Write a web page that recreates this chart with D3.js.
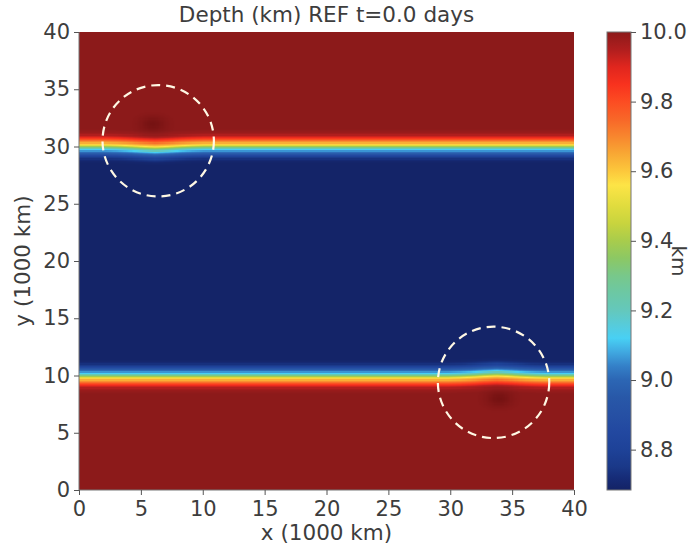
<!DOCTYPE html>
<html>
<head>
<meta charset="utf-8">
<script src="https://cdn.jsdelivr.net/npm/d3@7"></script>
<style>
  body { margin: 0; background: #fff; }
  svg text { font-family: "DejaVu Sans", sans-serif; fill: #3d3d3d; }
  .tick text { font-size: 21px; }
  .tick line { stroke: #555; }
</style>
</head>
<body>
<div id="chart"></div>
<script>
// depth profile across a front: signed distance (1000 km, + toward deep side) -> depth (km)
var profileDist = [-1.6, -1.2, -1.0, -0.8, -0.6, -0.4, -0.25, -0.1, 0, 0.1, 0.22, 0.35, 0.5, 0.65, 0.83, 1.0, 1.2, 1.6];
var profileDepth = [8.685, 8.70, 8.74, 8.82, 8.94, 9.03, 9.12, 9.26, 9.34, 9.44, 9.57, 9.64, 9.71, 9.79, 9.87, 9.94, 9.98, 10.0];

// fronts: resting position and local shift near each eddy
var frontY = [30, 10];
var frontSide = [1, -1];            // deep side above (1) or below (-1)
var eddyX = [6.2, 33.8];
var shiftOffset = [-4, -3, -2, -1, 0, 1, 2, 3, 4];
var shiftTop = [0, -0.03, -0.08, -0.15, -0.2, -0.15, -0.08, -0.03, 0];
var shiftBottom = [0, 0.03, 0.08, 0.15, 0.2, 0.15, 0.08, 0.03, 0];

// dark spots (slightly deeper than 10 km)
var spotX = [6.0, 34.0];
var spotY = [32.0, 8.0];
var spotRadius = [0, 0.4, 0.8, 1.2, 1.6];
var spotExtra = [0.05, 0.04, 0.02, 0.007, 0];

// dashed circles
var circleX = [6.4, 33.5];
var circleY = [30.5, 9.4];
var circleR = 4.5;

var xTicks = [0, 5, 10, 15, 20, 25, 30, 35, 40];
var yTicks = [0, 5, 10, 15, 20, 25, 30, 35, 40];
var cbTicks = [8.8, 9.0, 9.2, 9.4, 9.6, 9.8, 10.0];
var cbRange = [8.684, 10.0];

var cmapValues = [8.69, 8.72, 8.75, 8.8, 8.85, 8.9, 8.95, 9.0, 9.04, 9.08, 9.12, 9.15, 9.2, 9.25, 9.3, 9.35, 9.4, 9.45, 9.5, 9.56, 9.6, 9.65, 9.7, 9.75, 9.8, 9.85, 9.9, 9.95, 10.0, 10.06];
var cmapColors = ["#142468", "#162c78", "#1a3888", "#1e4298", "#2248a0", "#2650a4", "#2858a8", "#2c66b4", "#3480c8", "#40a8e0",
                  "#48d0f4", "#54cce0", "#64c8bc", "#6cc8a4", "#78c88a", "#8cc864", "#a8cc4c", "#c8d43e", "#e0dc3e", "#fde446",
                  "#fcc83c", "#f8a834", "#f8862e", "#f86628", "#fc4c22", "#f8321e", "#e0261e", "#b01e1e", "#8c1a1a", "#701010"];

var W = 692, H = 546;
var plot = {left: 79, right: 574, top: 32, bottom: 490};

var x = d3.scaleLinear().domain([0, 40]).range([plot.left, plot.right]);
var y = d3.scaleLinear().domain([0, 40]).range([plot.bottom, plot.top]);
var color = d3.scaleLinear().domain(cmapValues).range(cmapColors).clamp(true);

var profile = d3.scaleLinear().domain(profileDist).range(profileDepth).clamp(true);
var shiftT = d3.scaleLinear().domain(shiftOffset).range(shiftTop).clamp(true);
var shiftB = d3.scaleLinear().domain(shiftOffset).range(shiftBottom).clamp(true);
var spot = d3.scaleLinear().domain(spotRadius).range(spotExtra).clamp(true);

function depth(px, py) {
    var c1 = frontY[0] + shiftT(px - eddyX[0]);
    var c2 = frontY[1] + shiftB(px - eddyX[1]);
    var d = Math.max((py - c1) * frontSide[0], (py - c2) * frontSide[1]);
    var h = profile(d);
    for (var i = 0; i < spotX.length; i++) {
        var r = Math.sqrt(Math.pow((px - spotX[i]) / 1.2, 2) + Math.pow((py - spotY[i]) / 0.8, 2));
        h += spot(r);
    }
    return h;
}

// paint the field cell by cell onto a canvas, then embed it
var step = 0.1;
var pw = plot.right - plot.left, ph = plot.bottom - plot.top;
var canvas = document.createElement("canvas");
canvas.width = pw; canvas.height = ph;
var ctx = canvas.getContext("2d");
d3.range(0, 40, step).forEach(function(cx) {
    d3.range(0, 40, step).forEach(function(cy) {
        ctx.fillStyle = color(depth(cx + step / 2, cy + step / 2));
        var x0 = x(cx) - plot.left, x1 = x(cx + step) - plot.left;
        var y0 = y(cy + step) - plot.top, y1 = y(cy) - plot.top;
        ctx.fillRect(Math.floor(x0), Math.floor(y0), Math.ceil(x1) - Math.floor(x0), Math.ceil(y1) - Math.floor(y0));
    });
});

var svg = d3.select("#chart").append("svg")
    .attr("width", W)
    .attr("height", H);

svg.append("image")
    .attr("x", plot.left)
    .attr("y", plot.top)
    .attr("width", pw)
    .attr("height", ph)
    .attr("preserveAspectRatio", "none")
    .attr("href", canvas.toDataURL());

// dashed circles
svg.selectAll(".eddy")
    .data(circleX)
    .enter()
    .append("circle")
    .attr("class", "eddy")
    .attr("cx", d => x(d))
    .attr("cy", (d, i) => y(circleY[i]))
    .attr("r", x(circleR) - x(0))
    .style("fill", "none")
    .style("stroke", "#fff8e4")
    .style("stroke-width", 2.2)
    .style("stroke-dasharray", "9,6");

// left and bottom spines
svg.append("path")
    .attr("d", "M" + plot.left + "," + plot.top + "V" + plot.bottom + "H" + plot.right)
    .style("fill", "none").style("stroke", "#777").style("stroke-width", 1);

function clean(g) {
    g.select(".domain").remove();
    g.attr("font-family", null).attr("font-size", null);
}

svg.append("g")
    .attr("transform", "translate(0," + plot.bottom + ")")
    .call(d3.axisBottom(x).tickValues(xTicks).tickSize(5).tickPadding(6).tickFormat(d3.format("d")))
    .call(clean);

svg.append("g")
    .attr("transform", "translate(" + plot.left + ",0)")
    .call(d3.axisLeft(y).tickValues(yTicks).tickSize(5).tickPadding(4).tickFormat(d3.format("d")))
    .call(clean);

svg.append("text")
    .attr("x", (plot.left + plot.right) / 2)
    .attr("y", 22)
    .attr("text-anchor", "middle")
    .style("font-size", "21.5px")
    .text("Depth (km) REF t=0.0 days");

svg.append("text")
    .attr("x", (plot.left + plot.right) / 2)
    .attr("y", 540)
    .attr("text-anchor", "middle")
    .style("font-size", "21.5px")
    .text("x (1000 km)");

svg.append("text")
    .attr("transform", "translate(30," + (plot.top + plot.bottom) / 2 + ") rotate(-90)")
    .attr("text-anchor", "middle")
    .style("font-size", "21.5px")
    .text("y (1000 km)");

// colorbar
var cb = {left: 607, width: 24};
var cbScale = d3.scaleLinear().domain(cbRange).range([plot.bottom, plot.top]);

var grad = svg.append("defs").append("linearGradient")
    .attr("id", "cbgrad")
    .attr("x1", 0).attr("y1", 1).attr("x2", 0).attr("y2", 0);
grad.selectAll("stop")
    .data(cmapValues.filter(v => v <= cbRange[1]))
    .enter()
    .append("stop")
    .attr("offset", d => Math.max(0, (d - cbRange[0]) / (cbRange[1] - cbRange[0])))
    .attr("stop-color", d => color(d));

svg.append("rect")
    .attr("x", cb.left).attr("y", plot.top)
    .attr("width", cb.width).attr("height", ph)
    .style("fill", "url(#cbgrad)")
    .style("stroke", "#777").style("stroke-width", 1);

svg.append("g")
    .attr("transform", "translate(" + (cb.left + cb.width) + ",0)")
    .call(d3.axisRight(cbScale).tickValues(cbTicks).tickSize(5).tickPadding(4).tickFormat(d3.format(".1f")))
    .call(clean);

svg.append("text")
    .attr("transform", "translate(672," + (plot.top + plot.bottom) / 2 + ") rotate(90)")
    .attr("text-anchor", "middle")
    .style("font-size", "20px")
    .text("km");
</script>
</body>
</html>
